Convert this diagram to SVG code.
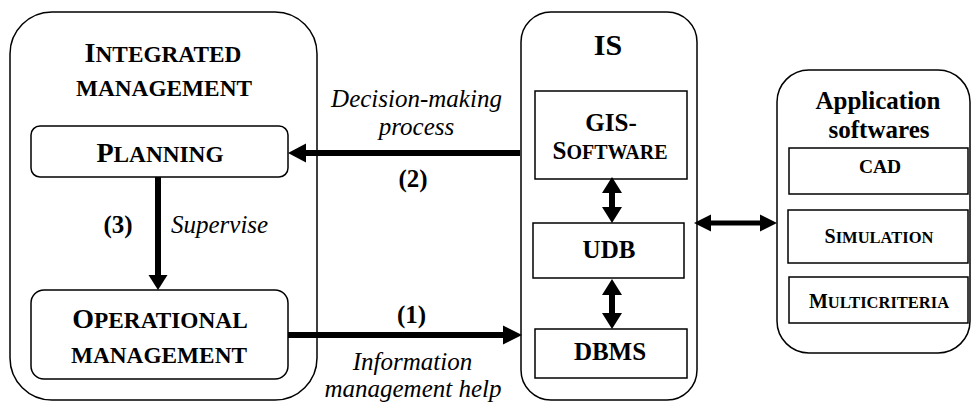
<svg xmlns="http://www.w3.org/2000/svg" width="971" height="403" viewBox="0 0 971 403">
<rect width="971" height="403" fill="#fff"/>
<g id="integrated-management" fill="#fff" stroke="#000" stroke-width="1.5">
<rect x="10" y="12" width="307" height="388" rx="42"/>
<text stroke="none" fill="#000" style="font-family:'Liberation Serif',serif;font-weight:bold" text-anchor="middle" x="163" y="62"><tspan font-size="28">I</tspan><tspan font-size="23.3">NTEGRATED</tspan></text>
<text stroke="none" fill="#000" style="font-family:'Liberation Serif',serif;font-weight:bold" text-anchor="middle" x="164" y="96" font-size="23.3">MANAGEMENT</text>
</g>
<g id="planning" fill="#fff" stroke="#000" stroke-width="1.5">
<rect x="31" y="126" width="257" height="51" rx="9"/>
<text stroke="none" fill="#000" style="font-family:'Liberation Serif',serif;font-weight:bold" text-anchor="middle" x="160" y="162"><tspan font-size="28">P</tspan><tspan font-size="23.3">LANNING</tspan></text>
</g>
<g id="operational-management" fill="#fff" stroke="#000" stroke-width="1.5">
<rect x="31" y="290" width="257" height="89" rx="13"/>
<text stroke="none" fill="#000" style="font-family:'Liberation Serif',serif;font-weight:bold" text-anchor="middle" x="160" y="328"><tspan font-size="28">O</tspan><tspan font-size="23.3">PERATIONAL</tspan></text>
<text stroke="none" fill="#000" style="font-family:'Liberation Serif',serif;font-weight:bold" text-anchor="middle" x="159" y="363" font-size="23.3">MANAGEMENT</text>
</g>
<g id="is" fill="#fff" stroke="#000" stroke-width="1.5">
<rect x="521" y="12" width="176" height="388" rx="30"/>
<text stroke="none" fill="#000" style="font-family:'Liberation Serif',serif;font-weight:bold" text-anchor="middle" x="608" y="55" font-size="30">IS</text>
</g>
<g id="gis-software" fill="#fff" stroke="#000" stroke-width="1.5">
<rect x="535" y="91" width="152" height="88"/>
<text stroke="none" fill="#000" style="font-family:'Liberation Serif',serif;font-weight:bold" text-anchor="middle" x="611" y="131" font-size="25">GIS-</text>
<text stroke="none" fill="#000" style="font-family:'Liberation Serif',serif;font-weight:bold" text-anchor="middle" x="610" y="159"><tspan font-size="25">S</tspan><tspan font-size="20">OFTWARE</tspan></text>
</g>
<g id="udb" fill="#fff" stroke="#000" stroke-width="1.5">
<rect x="533" y="223" width="151" height="55"/>
<text stroke="none" fill="#000" style="font-family:'Liberation Serif',serif;font-weight:bold" text-anchor="middle" x="609" y="258" font-size="25">UDB</text>
</g>
<g id="dbms" fill="#fff" stroke="#000" stroke-width="1.5">
<rect x="535" y="329" width="152" height="49"/>
<text stroke="none" fill="#000" style="font-family:'Liberation Serif',serif;font-weight:bold" text-anchor="middle" x="610" y="360" font-size="25">DBMS</text>
</g>
<g id="application-softwares" fill="#fff" stroke="#000" stroke-width="1.5">
<rect x="777" y="70" width="193" height="283" rx="32"/>
<text stroke="none" fill="#000" style="font-family:'Liberation Serif',serif;font-weight:bold" text-anchor="middle" x="878" y="109" font-size="25">Application</text>
<text stroke="none" fill="#000" style="font-family:'Liberation Serif',serif;font-weight:bold" text-anchor="middle" x="879" y="138" font-size="25">softwares</text>
</g>
<g id="cad" fill="#fff" stroke="#000" stroke-width="1.5">
<rect x="789" y="148" width="179" height="46"/>
<text stroke="none" fill="#000" style="font-family:'Liberation Serif',serif;font-weight:bold" text-anchor="middle" x="880" y="173" font-size="19.5">CAD</text>
</g>
<g id="simulation" fill="#fff" stroke="#000" stroke-width="1.5">
<rect x="788" y="210" width="180" height="53"/>
<text stroke="none" fill="#000" style="font-family:'Liberation Serif',serif;font-weight:bold" text-anchor="middle" x="879" y="243"><tspan font-size="20">S</tspan><tspan font-size="16.5">IMULATION</tspan></text>
</g>
<g id="multicriteria" fill="#fff" stroke="#000" stroke-width="1.5">
<rect x="789" y="277" width="179" height="46"/>
<text stroke="none" fill="#000" style="font-family:'Liberation Serif',serif;font-weight:bold" text-anchor="middle" x="879" y="308"><tspan font-size="20">M</tspan><tspan font-size="16.5">ULTICRITERIA</tspan></text>
</g>
<g id="connectors" stroke="#000" stroke-width="6" fill="#000">
<line x1="520" y1="153" x2="303" y2="153"/>
<polygon stroke="none" points="288,153 306,143.5 306,162.5"/>
<line x1="288" y1="335" x2="505" y2="335"/>
<polygon stroke="none" points="522,335 503,325.5 503,344.5"/>
<line x1="158" y1="177" x2="158" y2="277"/>
<polygon stroke="none" points="158,290 148.5,275 167.5,275"/>
<line x1="612" y1="190" x2="612" y2="209"/>
<polygon stroke="none" points="612,177 602,193 622,193"/>
<polygon stroke="none" points="612,223 602,207 622,207"/>
<line x1="612" y1="292" x2="612" y2="316"/>
<polygon stroke="none" points="612,279 602,295 622,295"/>
<polygon stroke="none" points="612,329 602,313 622,313"/>
<line stroke-width="5" x1="708" y1="223" x2="763" y2="223"/>
<polygon stroke="none" points="694,223 711,214.5 711,231.5"/>
<polygon stroke="none" points="777,223 760,214.5 760,231.5"/>
<text stroke="none" style="font-family:'Liberation Serif',serif;font-style:italic" font-size="25" x="416.5" y="107" text-anchor="middle">Decision-making</text>
<text stroke="none" style="font-family:'Liberation Serif',serif;font-style:italic" font-size="25" x="416.5" y="135" text-anchor="middle">process</text>
<text stroke="none" style="font-family:'Liberation Serif',serif;font-weight:bold" text-anchor="middle" x="413" y="187" font-size="25">(2)</text>
<text stroke="none" style="font-family:'Liberation Serif',serif;font-weight:bold" text-anchor="middle" x="411.5" y="323" font-size="25">(1)</text>
<text stroke="none" style="font-family:'Liberation Serif',serif;font-style:italic" font-size="25" x="412.5" y="370" text-anchor="middle">Information</text>
<text stroke="none" style="font-family:'Liberation Serif',serif;font-style:italic" font-size="25" x="413" y="397" text-anchor="middle">management help</text>
<text stroke="none" style="font-family:'Liberation Serif',serif;font-weight:bold" text-anchor="middle" x="118" y="233" font-size="25">(3)</text>
<text stroke="none" style="font-family:'Liberation Serif',serif;font-style:italic" font-size="25" x="171" y="233">Supervise</text>
</g>
</svg>
